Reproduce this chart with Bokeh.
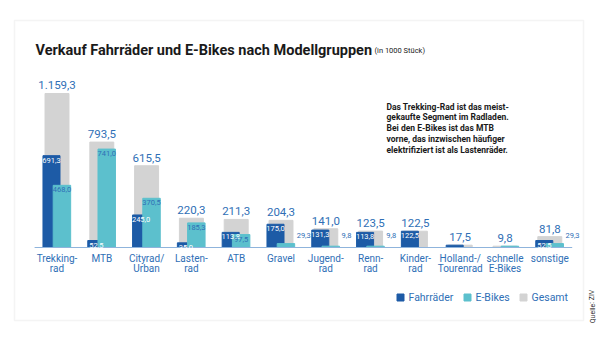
from bokeh.plotting import figure
from bokeh.models import Range1d, ColumnDataSource, BoxAnnotation
from bokeh.transform import dodge
from bokeh.core.properties import value
from bokeh.embed import file_html
from bokeh.resources import INLINE

# ---------------- data ----------------
categories = ["Trekking-\nrad", "MTB", "Cityrad/\nUrban", "Lasten-\nrad", "ATB", "Gravel",
              "Jugend-\nrad", "Renn-\nrad", "Kinder-\nrad", "Holland-/\nTourenrad",
              "schnelle\nE-Bikes", "sonstige"]
fahrraeder = [691.3, 52.5, 245.0, 35.0, 113.8, 175.0, 131.3, 113.8, 122.5, 17.5, 0.0, 52.5]
ebikes = [468.0, 741.0, 370.5, 185.3, 97.5, 29.3, 9.8, 9.8, 0.0, 0.0, 9.8, 29.3]
gesamt = [1159.3, 793.5, 615.5, 220.3, 211.3, 204.3, 141.0, 123.5, 122.5, 17.5, 9.8, 81.8]
# where the value label sits: "in" = inside bar top, "right" = beside bar, "" = none
fahr_label_pos = ["in", "in", "in", "in", "in", "in", "in", "in", "in", "", "", "in"]
ebike_label_pos = ["in", "in", "in", "in", "in", "right", "right", "right", "", "", "", "right"]
series_names = ["Fahrräder", "E-Bikes", "Gesamt"]

title = "Verkauf Fahrräder und E-Bikes nach Modellgruppen"
subtitle = "(in 1000 Stück)"
note = ("Das Trekking-Rad ist das meist-\ngekaufte Segment im Radladen.\n"
        "Bei den E-Bikes ist das MTB\nvorne, das inzwischen häufiger\n"
        "elektrifiziert ist als Lastenräder.")
source_note = "Quelle: ZIV"

# ---------------- style ----------------
C_FAHR = "#1d5ba6"
C_EBIKE = "#5cc0cd"
C_GES = "#d3d3d3"
C_TEXT = "#2f6fb6"
FONT = "Roboto"

W, H = 600, 340
X0, DX = 56.5, 44.8          # pixel of first category centre, pixels per category
BASE, K = 247.0, 0.13284     # baseline pixel (from top), pixels per unit


def fx(px):
    return (px - X0) / DX


def fy(py):
    return (BASE - py) / K


def de(v):
    s = f"{v:,.1f}"
    return s.replace(",", "X").replace(".", ",").replace("X", ".")


idx = list(range(len(categories)))
src = ColumnDataSource(dict(
    x=idx, cat=categories, f=fahrraeder, e=ebikes, g=gesamt,
    g_lbl=[de(v) for v in gesamt],
))
f_lbl = ColumnDataSource(dict(
    x=[i for i in idx if fahr_label_pos[i] == "in"],
    y=[fahrraeder[i] for i in idx if fahr_label_pos[i] == "in"],
    t=[de(fahrraeder[i]) for i in idx if fahr_label_pos[i] == "in"],
))
e_in = ColumnDataSource(dict(
    x=[i for i in idx if ebike_label_pos[i] == "in"],
    y=[ebikes[i] for i in idx if ebike_label_pos[i] == "in"],
    t=[de(ebikes[i]) for i in idx if ebike_label_pos[i] == "in"],
))
e_right = ColumnDataSource(dict(
    x=[i for i in idx if ebike_label_pos[i] == "right"],
    y=[0 for i in idx if ebike_label_pos[i] == "right"],
    t=[de(ebikes[i]) for i in idx if ebike_label_pos[i] == "right"],
))

p = figure(width=W, height=H, x_range=Range1d(fx(0), fx(W)), y_range=Range1d(fy(H), fy(0)),
           x_axis_type=None, y_axis_type=None, min_border=0, toolbar_location=None,
           output_backend="svg", outline_line_color=None)
p.background_fill_color = "white"
p.border_fill_color = "white"

# panel frame
p.add_layout(BoxAnnotation(left=fx(14), right=fx(583), top=fy(20), bottom=fy(320),
                           fill_color=None, line_color="#dcdcdc", line_width=1.5))

OFF_F, W_F = -0.123, 0.38
OFF_E, W_E = 0.11, 0.39
W_G = 0.535

p.vbar(x="x", top="g", bottom=0, width=W_G, color=C_GES, source=src)
p.vbar(x=dodge("x", OFF_F), top="f", bottom=0, width=W_F, color=C_FAHR, source=src)
p.vbar(x=dodge("x", OFF_E), top="e", bottom=0, width=W_E, color=C_EBIKE, source=src)

# baseline
p.line(x=[-0.5, len(categories) - 0.5], y=[0, 0], line_color="#8fb4dc", line_width=1.2)

# value labels
p.text(x="x", y="g", text="g_lbl", source=src, text_align="center", text_baseline="bottom",
       y_offset=-4, text_color=C_TEXT, text_font=value(FONT), text_font_size="11.5px")
p.text(x=dodge("x", OFF_F), y="y", text="t", source=f_lbl, text_align="center",
       text_baseline="top", y_offset=2, text_color="white", text_font=value(FONT),
       text_font_size="7.5px")
p.text(x=dodge("x", OFF_E), y="y", text="t", source=e_in, text_align="center",
       text_baseline="top", y_offset=2, text_color=C_TEXT, text_font=value(FONT),
       text_font_size="7.5px")
p.text(x=dodge("x", OFF_E + W_E / 2), y="y", text="t", source=e_right, text_align="left",
       text_baseline="bottom", x_offset=2, y_offset=-10, text_color=C_TEXT,
       text_font=value(FONT), text_font_size="7.5px")

# category labels
p.text(x="x", y=0, text="cat", source=src, text_align="center", text_baseline="top",
       y_offset=5, text_color=C_TEXT, text_font=value(FONT), text_font_size="10px",
       text_line_height=0.95)

# title
p.text(x=[fx(35)], y=[fy(50)], text=[title], text_baseline="alphabetic",
       text_font=value(FONT), text_font_style="bold", text_font_size="14.5px",
       text_color="#1a1a1a")
p.text(x=[fx(374)], y=[fy(50)], text=[subtitle], text_baseline="alphabetic",
       text_font=value(FONT), text_font_size="7.5px", text_color="#1a1a1a")

# note
p.text(x=[fx(386)], y=[fy(101)], text=[note], text_baseline="top",
       text_font=value(FONT), text_font_style="bold", text_font_size="8.5px",
       text_color="#1a1a1a", text_line_height=1.08)

# legend
leg_x = [400, 467, 523]
leg_colors = [C_FAHR, C_EBIKE, C_GES]
p.scatter(x=[fx(v) for v in leg_x], y=[fy(297)] * 3, marker="square", size=7,
          color=leg_colors)
p.text(x=[fx(v + 8) for v in leg_x], y=[fy(297)] * 3, text=series_names,
       text_baseline="middle", text_font=value(FONT), text_font_size="10.5px",
       text_color=C_TEXT)

# source note
p.text(x=[fx(592)], y=[fy(306)], text=[source_note], angle=1.5708, text_align="center",
       text_baseline="middle", text_font=value(FONT), text_font_size="7px",
       text_color="#333333")

open("out.html", "w").write(file_html(p, INLINE))
